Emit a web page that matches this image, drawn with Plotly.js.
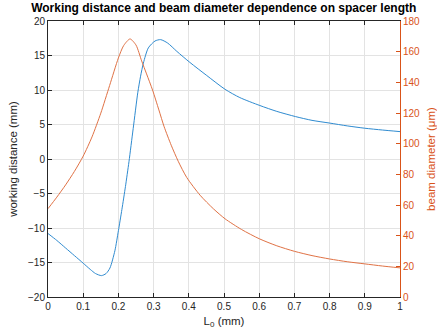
<!DOCTYPE html>
<html>
<head>
<meta charset="utf-8">
<script src="https://cdn.plot.ly/plotly-3.0.1.min.js"></script>
<style>body{margin:0;padding:0;background:#fff}#chart{width:437px;height:336px}</style>
</head>
<body>
<div id="chart"></div>
<script>
// Working distance (mm) vs spacer length L0 (mm)
var spacerLengthWd = [0, 0.025, 0.05, 0.075, 0.1, 0.12, 0.135, 0.152, 0.165, 0.176, 0.19, 0.2, 0.21, 0.22, 0.23, 0.242, 0.255, 0.263, 0.271, 0.285, 0.304, 0.32, 0.34, 0.366, 0.403, 0.451, 0.503, 0.545, 0.602, 0.65, 0.703, 0.75, 0.801, 0.85, 0.9, 0.95, 1.0];
var workingDistance = [-10.8, -11.8, -12.9, -14.0, -15.1, -16.0, -16.6, -16.9, -16.6, -15.8, -13.3, -10.4, -7.3, -4.0, -0.4, 4.4, 9.6, 12.0, 13.9, 16.1, 17.1, 17.3, 16.8, 15.6, 14.0, 12.1, 10.1, 8.9, 7.75, 6.9, 6.15, 5.6, 5.2, 4.8, 4.46, 4.2, 3.97];
// Beam diameter (um) vs spacer length L0 (mm)
var spacerLengthBd = [0, 0.025, 0.05, 0.075, 0.1, 0.125, 0.15, 0.175, 0.2, 0.215, 0.233, 0.25, 0.266, 0.28, 0.297, 0.315, 0.33, 0.35, 0.37, 0.394, 0.432, 0.47, 0.503, 0.55, 0.6, 0.65, 0.7, 0.75, 0.8, 0.85, 0.9, 0.95, 1.0];
var beamDiameter = [57.6, 65.1, 73.1, 81.9, 91.9, 104.4, 119.9, 137.9, 155.9, 164, 168.3, 164.3, 154, 145.5, 135, 122, 111, 99, 88.5, 78, 66.4, 57.5, 51, 44, 38, 33.4, 29.8, 27, 24.8, 23, 21.6, 20.2, 19];
var xTicks = [0, 0.1, 0.2, 0.3, 0.4, 0.5, 0.6, 0.7, 0.8, 0.9, 1];

var blue = '#2f8bd0', orange = '#e07245', axisOrange = '#D95319', dark = '#262626', grid = '#e3e3e3';
var font = 'Liberation Sans, Arial, Helvetica, sans-serif';

var traces = [
  {x: spacerLengthWd, y: workingDistance, type: 'scatter', mode: 'lines',
   line: {color: blue, width: 1, shape: 'spline', smoothing: 0.7}, yaxis: 'y'},
  {x: spacerLengthBd, y: beamDiameter, type: 'scatter', mode: 'lines',
   line: {color: orange, width: 1, shape: 'spline', smoothing: 0.7}, yaxis: 'y2'}
];

var layout = {
  width: 437, height: 336,
  margin: {l: 48, r: 37, t: 21, b: 39, pad: 0},
  paper_bgcolor: '#fff', plot_bgcolor: '#fff',
  showlegend: false,
  font: {family: font, size: 10, color: dark},
  title: {text: '<b>Working distance and beam diameter dependence on spacer length</b>',
          font: {family: font, size: 12, color: '#000'}, x: 0.512, xanchor: 'center', y: 0.99, yanchor: 'top'},
  xaxis: {
    range: [0, 1], tickvals: xTicks, ticktext: xTicks.map(String),
    ticks: 'inside', ticklen: 4, tickcolor: dark, mirror: 'ticks',
    showline: true, linecolor: dark, linewidth: 1,
    showgrid: true, gridcolor: grid, zeroline: false,
    tickfont: {size: 10, color: dark},
    title: {text: 'L<sub>0</sub> (mm)', font: {size: 11.5, color: dark}, standoff: 5}
  },
  yaxis: {
    range: [-20, 20], dtick: 5, ticks: 'inside', ticklen: 4, tickcolor: dark,
    showline: true, linecolor: dark, linewidth: 1,
    showgrid: true, gridcolor: grid, zeroline: false,
    tickfont: {size: 10, color: dark},
    title: {text: 'working distance (mm)', font: {size: 11.5, color: dark}, standoff: 8}
  },
  yaxis2: {
    range: [0, 180], dtick: 20, overlaying: 'y', side: 'right', anchor: 'x',
    ticks: 'inside', ticklen: 4, tickcolor: axisOrange,
    showline: true, linecolor: axisOrange, linewidth: 1,
    showgrid: false, zeroline: false, automargin: false,
    tickfont: {size: 10, color: axisOrange},
    title: {text: 'beam diameter (μm)', font: {size: 11.5, color: axisOrange}, standoff: 10}
  }
};

Plotly.newPlot('chart', traces, layout, {displayModeBar: false, staticPlot: true});
</script>
</body>
</html>
